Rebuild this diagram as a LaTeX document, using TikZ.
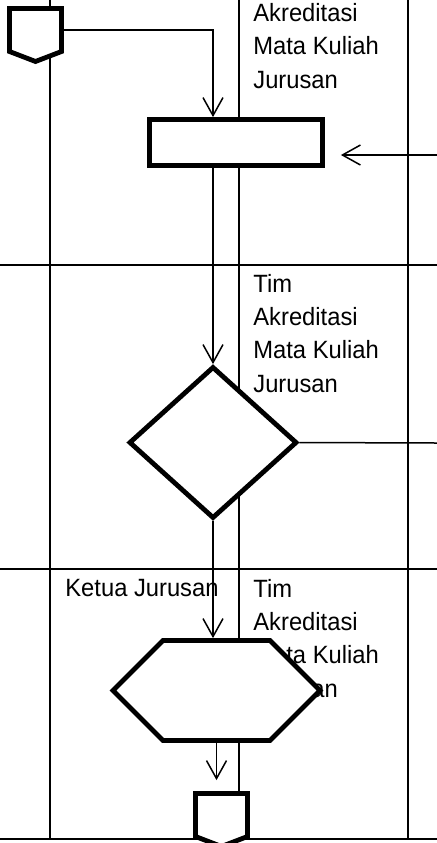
\documentclass[tikz,border=0pt]{standalone}
\usepackage{fontspec}
\setmainfont{Liberation Sans}[FakeStretch=0.95]
\usetikzlibrary{
  arrows.meta,
  positioning,
  calc,
  shapes.geometric,
  shapes.symbols,
  backgrounds,
}
\tikzset{
  >={Straight Barb[length=9pt,width=10pt]},
  lane/.style={line width=0.75pt},
  flow/.style={line width=0.75pt},
  actor/.style={anchor=base west, align=left, inner sep=0pt,
    font=\fontsize{12.5}{16.6}\selectfont},
  procbox/.style={draw, line width=2.4pt, fill=white, inner sep=0pt,
    minimum width=86.5pt, minimum height=23pt},
  decision/.style={shape=diamond, draw, line width=2.4pt, fill=white,
    inner sep=0pt, minimum width=84pt, minimum height=76pt},
  prepbox/.style={shape=signal, signal to=east and west,
    signal pointer angle=90, draw, line width=2.4pt, fill=white,
    inner sep=0pt, minimum width=103.5pt, minimum height=50pt},
  offpage/.style={shape=signal, signal to=south,
    signal pointer angle=138, draw, line width=2.4pt, fill=white,
    inner sep=0pt, minimum width=26pt, minimum height=21.5pt},
}

\begin{document}
\begin{tikzpicture}[x=0.5pt,y=-0.5pt]
  \useasboundingbox (0,0) rectangle (437,843);

  % symbols
  \node[offpage] (start) at (35.5,30) {};
  \node[procbox] (input) at (236,142.5) {};
  \node[decision] (check) at (213,442.5) {};
  \node[prepbox] (approve) at (216.5,690.5) {};
  \node[offpage] (stop) at (221.5,815) {};

  \coordinate (inR) at (437,155);
  \coordinate (outR) at (437,443);

  % flow
  \draw[flow,->] (start.east) -| (check.north |- input.north);
  \draw[flow,->] (inR) -- ([xshift=8pt]inR -| input.east);
  \draw[flow,->] (input.south -| check.north) -- (check.north);
  \draw[flow] (check.east) -- (outR);
  \draw[flow,->] (check.south) -- (approve.north -| check.south);
  \draw[flow,->,shorten >=5.5pt] (approve.south) -- (approve.south |- stop.north);

  % lanes and actors
  \begin{scope}[on background layer]
    \foreach \xx in {50,239,408}
      \draw[lane] (\xx,0) -- (\xx,839);
    \foreach \yy in {265,569,839}
      \draw[lane] (0,\yy) -- (437,\yy);
    \node[actor] (actTop) at (253,88) {Akreditasi\\Mata Kuliah\\Jurusan};
    \node[actor] (actMid) at (253,392) {Tim\\Akreditasi\\Mata Kuliah\\Jurusan};
    \node[actor] (actBot) at (253,697) {Tim\\Akreditasi\\Mata Kuliah\\Jurusan};
    \node[actor] (actKetua) at (65,596) {Ketua Jurusan};
  \end{scope}
\end{tikzpicture}
\end{document}
